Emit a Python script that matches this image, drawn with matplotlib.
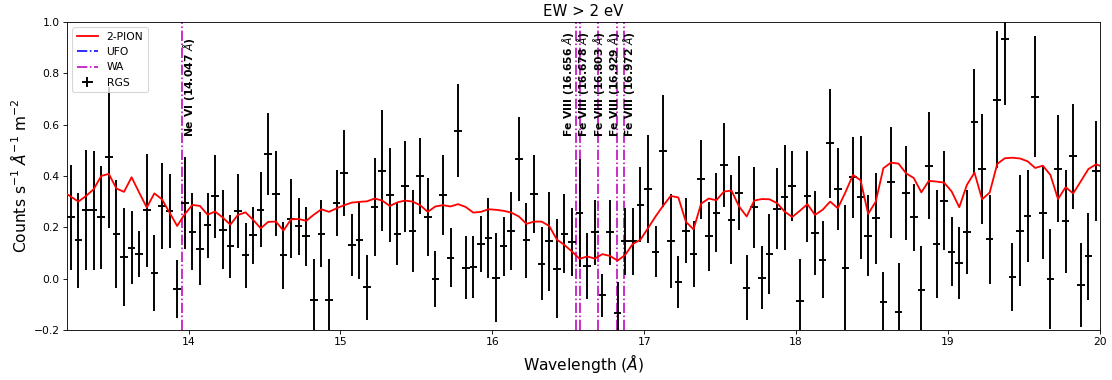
import numpy as np
import matplotlib
matplotlib.use("Agg")
import matplotlib.pyplot as plt

#
# data (0.05 A bins)
#
bin_width = 0.05
wave = 13.225 + bin_width * np.arange(136)

flux = [
    0.238, 0.149, 0.269, 0.266, 0.238, 0.473, 0.175, 0.083, 0.121, 0.095,
    0.266, 0.023, 0.284, 0.264, -0.040, 0.295, 0.183, 0.116, 0.208, 0.321,
    0.191, 0.125, 0.264, 0.090, 0.168, 0.269, 0.487, 0.330, 0.091, 0.234,
    0.203, 0.164, -0.084, 0.175, -0.084, 0.295, 0.412, 0.129, 0.149, -0.034,
    0.278, 0.421, 0.325, 0.173, 0.360, 0.187, 0.399, 0.239, -0.001, 0.325,
    0.082, 0.577, 0.043, 0.045, 0.134, 0.157, 0.004, 0.125, 0.187, 0.466,
    0.149, 0.330, 0.058, 0.145, 0.039, 0.174, 0.142, 0.255, 0.049, 0.181,
    -0.066, 0.181, -0.134, 0.145, 0.145, 0.287, 0.349, 0.105, 0.497, 0.147,
    -0.012, 0.187, 0.096, 0.387, 0.164, 0.257, 0.443, 0.230, 0.334, -0.035,
    0.277, 0.004, 0.094, 0.273, 0.316, 0.361, -0.087, 0.321, 0.177, 0.073,
    0.527, 0.349, 0.040, 0.394, 0.316, 0.166, 0.235, -0.092, 0.375, -0.132,
    0.335, 0.238, -0.043, 0.440, 0.134, 0.304, 0.105, 0.062, 0.181, 0.612,
    0.427, 0.153, 0.697, 0.935, 0.006, 0.187, 0.244, 0.709, 0.257, -0.003,
    0.429, 0.223, 0.477, -0.025, 0.086, 0.419,
]

flux_err = [
    0.204, 0.185, 0.234, 0.233, 0.201, 0.275, 0.211, 0.192, 0.143, 0.090,
    0.220, 0.148, 0.167, 0.145, 0.113, 0.179, 0.149, 0.142, 0.126, 0.162,
    0.154, 0.123, 0.145, 0.126, 0.110, 0.146, 0.160, 0.166, 0.130, 0.154,
    0.112, 0.116, 0.162, 0.130, 0.162, 0.130, 0.168, 0.121, 0.149, 0.126,
    0.190, 0.235, 0.182, 0.121, 0.177, 0.160, 0.149, 0.153, 0.110, 0.157,
    0.116, 0.180, 0.121, 0.120, 0.110, 0.156, 0.174, 0.114, 0.152, 0.162,
    0.147, 0.152, 0.142, 0.194, 0.194, 0.154, 0.133, 0.210, 0.129, 0.127,
    0.085, 0.127, 0.122, 0.130, 0.130, 0.146, 0.210, 0.100, 0.218, 0.182,
    0.101, 0.128, 0.130, 0.154, 0.135, 0.154, 0.164, 0.172, 0.145, 0.127,
    0.156, 0.123, 0.156, 0.157, 0.204, 0.138, 0.164, 0.177, 0.163, 0.150,
    0.212, 0.160, 0.247, 0.157, 0.239, 0.158, 0.177, 0.118, 0.217, 0.194,
    0.183, 0.130, 0.169, 0.208, 0.210, 0.194, 0.136, 0.140, 0.164, 0.205,
    0.213, 0.173, 0.267, 0.260, 0.132, 0.217, 0.180, 0.237, 0.180, 0.195,
    0.208, 0.200, 0.205, 0.162, 0.169, 0.195,
]

# 2-PION model, same bins plus one bin beyond each end
model_wave = np.concatenate(([wave[0] - bin_width], wave, [wave[-1] + bin_width]))
model = [
    0.340,
    0.319, 0.300, 0.322, 0.348, 0.400, 0.408, 0.351, 0.338, 0.395, 0.335,
    0.277, 0.332, 0.309, 0.257, 0.205, 0.251, 0.287, 0.283, 0.249, 0.261,
    0.238, 0.210, 0.248, 0.258, 0.229, 0.196, 0.221, 0.222, 0.187, 0.231,
    0.232, 0.225, 0.249, 0.270, 0.260, 0.274, 0.286, 0.296, 0.299, 0.301,
    0.312, 0.304, 0.283, 0.297, 0.304, 0.300, 0.286, 0.260, 0.281, 0.286,
    0.281, 0.290, 0.279, 0.257, 0.260, 0.270, 0.268, 0.264, 0.257, 0.242,
    0.213, 0.222, 0.222, 0.205, 0.152, 0.131, 0.105, 0.077, 0.086, 0.078,
    0.095, 0.088, 0.070, 0.092, 0.135, 0.151, 0.196, 0.242, 0.284, 0.322,
    0.316, 0.221, 0.192, 0.292, 0.312, 0.305, 0.339, 0.343, 0.281, 0.242,
    0.304, 0.310, 0.309, 0.294, 0.261, 0.240, 0.264, 0.290, 0.248, 0.268,
    0.300, 0.274, 0.336, 0.404, 0.383, 0.252, 0.300, 0.430, 0.452, 0.448,
    0.410, 0.392, 0.336, 0.381, 0.378, 0.374, 0.339, 0.278, 0.365, 0.413,
    0.309, 0.335, 0.447, 0.469, 0.471, 0.468, 0.457, 0.431, 0.440, 0.404,
    0.310, 0.356, 0.332, 0.379, 0.427, 0.445,
    0.435,
]

# warm absorber lines (rest wavelengths), shifted by the outflow
wa_ions = ["Ne VI", "Fe VIII", "Fe VIII", "Fe VIII", "Fe VIII", "Fe VIII"]
wa_rest = [14.047, 16.656, 16.678, 16.803, 16.929, 16.972]
wa_label_x = [14.00, 16.50, 16.60, 16.70, 16.80, 16.90]
wa_shift = -0.0062
ufo_rest = []  # no UFO lines in this band

#
# plot
#
fig, ax = plt.subplots(figsize=(1112 / 77, 380 / 77), dpi=77)
fig.subplots_adjust(left=0.0603, right=0.989, top=0.942, bottom=0.132)

ax.plot(model_wave, model, color="red", lw=1.7, label="2-PION", zorder=3)
ax.plot([], [], color="blue", ls="-.", lw=1.5, label="UFO")

for i, (ion, lam) in enumerate(zip(wa_ions, wa_rest)):
    lam_obs = lam * (1 + wa_shift)
    ax.axvline(lam_obs, color="m", ls="-.", lw=1.5,
               label="WA" if i == 0 else None)
    ax.text(wa_label_x[i], 0.55, f"{ion} ({lam:.3f} $\\AA$)", rotation=90,
            ha="center", va="bottom", fontsize=10, fontweight="bold")

ax.errorbar(wave, flux, yerr=flux_err, xerr=bin_width / 2, fmt="none",
            ecolor="k", elinewidth=1.8, label="RGS")

ax.set_xlim(13.2, 20.0)
ax.set_ylim(-0.2, 1.0)
ax.set_xlabel("Wavelength ($\\AA$)", fontsize=14.5)
ax.set_ylabel("Counts s$^{-1}$ $\\AA^{-1}$ m$^{-2}$", fontsize=14.5)
ax.set_title("EW > 2 eV", fontsize=14)
ax.legend(loc="upper left")

fig.savefig("out.png", dpi=77)
